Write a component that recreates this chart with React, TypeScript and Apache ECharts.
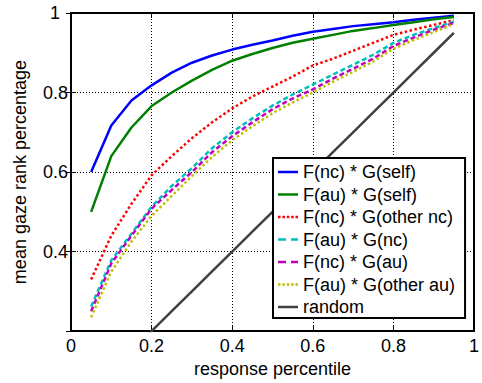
import React, { useEffect, useRef } from "react";
import * as echarts from "echarts";

const percentiles = [0.05, 0.1, 0.15, 0.2, 0.25, 0.3, 0.35, 0.4, 0.45, 0.5, 0.55, 0.6, 0.65, 0.7, 0.75, 0.8, 0.85, 0.9, 0.95];
const ncSelf = [0.60, 0.717, 0.78, 0.818, 0.85, 0.875, 0.893, 0.908, 0.92, 0.931, 0.943, 0.953, 0.96, 0.967, 0.972, 0.977, 0.983, 0.988, 0.993];
const auSelf = [0.50, 0.64, 0.712, 0.766, 0.80, 0.83, 0.857, 0.88, 0.897, 0.912, 0.925, 0.935, 0.945, 0.955, 0.962, 0.97, 0.977, 0.984, 0.99];
const ncOtherNc = [0.33, 0.44, 0.52, 0.592, 0.64, 0.685, 0.725, 0.76, 0.79, 0.815, 0.84, 0.868, 0.885, 0.905, 0.925, 0.945, 0.958, 0.97, 0.982];
const auNc = [0.262, 0.378, 0.445, 0.513, 0.565, 0.61, 0.66, 0.70, 0.735, 0.767, 0.795, 0.82, 0.845, 0.87, 0.895, 0.925, 0.945, 0.962, 0.978];
const ncAu = [0.25, 0.37, 0.44, 0.508, 0.555, 0.60, 0.65, 0.69, 0.725, 0.758, 0.785, 0.808, 0.835, 0.86, 0.885, 0.917, 0.938, 0.958, 0.975];
const auOtherAu = [0.235, 0.35, 0.425, 0.49, 0.54, 0.59, 0.638, 0.68, 0.715, 0.748, 0.775, 0.80, 0.827, 0.852, 0.878, 0.91, 0.932, 0.952, 0.972];
const randomLine = [0.05, 0.1, 0.15, 0.2, 0.25, 0.3, 0.35, 0.4, 0.45, 0.5, 0.55, 0.6, 0.65, 0.7, 0.75, 0.8, 0.85, 0.9, 0.95];

const seriesNames = [
  "F(nc) * G(self)",
  "F(au) * G(self)",
  "F(nc) * G(other nc)",
  "F(au) * G(nc)",
  "F(nc) * G(au)",
  "F(au) * G(other au)",
  "random",
];
const seriesValues = [ncSelf, auSelf, ncOtherNc, auNc, ncAu, auOtherAu, randomLine];
const seriesColors = ["#0000ff", "#008000", "#ff0000", "#00bfbf", "#bf00bf", "#bfbf00", "#404040"];
const seriesTypes: any[] = ["solid", "solid", [2.5, 2.5], [5, 3], [5, 3], [2.5, 2.5], "solid"];

const ICON_SOLID = "path://M0,0H20V2.5H0Z";
const ICON_DASH = "path://M0,0H8V2.5H0Z M13,0H20V2.5H13Z";
const ICON_DOT = "path://M0,0H2.5V2.5H0Z M4.4,0H6.9V2.5H4.4Z M8.8,0H11.3V2.5H8.8Z M13.2,0H15.7V2.5H13.2Z M17.5,0H20V2.5H17.5Z";
const legendIcons = [ICON_SOLID, ICON_SOLID, ICON_DOT, ICON_DASH, ICON_DASH, ICON_DOT, ICON_SOLID];

export default function App() {
  const ref = useRef<HTMLDivElement>(null);
  useEffect(() => {
    if (!ref.current) return;
    const chart = echarts.init(ref.current, null, { renderer: "svg" });
    const font = "Arial, 'Liberation Sans', sans-serif";
    const fs = 18;
    const grid = { left: 71, top: 13, width: 413, height: 324 };
    const gridLine = { show: true, lineStyle: { color: "#000", type: [1, 2] as any, width: 1 } };
    const option: any = {
      animation: false,
      backgroundColor: "#fff",
      textStyle: { fontFamily: font },
      grid: { ...grid, show: true, borderColor: "#000", borderWidth: 2, backgroundColor: "transparent" },
      legend: {
        orient: "vertical",
        left: 273,
        top: 158,
        data: seriesNames.map((name, i) => ({ name, icon: legendIcons[i] })),
        backgroundColor: "#fff",
        borderColor: "#000",
        borderWidth: 2,
        padding: [4, 10, 1, 5],
        itemWidth: 20,
        itemHeight: 2.5,
        itemGap: 2.5,
        symbolKeepAspect: false,
        itemStyle: { borderWidth: 0 },
        textStyle: { fontSize: fs, color: "#000", fontFamily: font, lineHeight: 20 },
        z: 10,
      },
      xAxis: [
        {
          type: "value",
          min: 0,
          max: 1,
          interval: 0.2,
          name: "response percentile",
          nameLocation: "middle",
          nameGap: 26,
          nameTextStyle: { fontSize: fs, color: "#000", fontFamily: font },
          axisLine: { show: true, lineStyle: { color: "#000", width: 2 } },
          axisTick: { show: true, inside: true, length: 5, lineStyle: { color: "#000" } },
          axisLabel: { fontSize: fs, color: "#000", margin: 6, fontFamily: font },
          splitLine: gridLine,
        },
        {
          type: "value",
          position: "top",
          min: 0,
          max: 1,
          interval: 0.2,
          axisLine: { show: true, lineStyle: { color: "#000", width: 2 } },
          axisTick: { show: true, inside: true, length: 5, lineStyle: { color: "#000" } },
          axisLabel: { show: false },
          splitLine: { show: false },
        },
      ],
      yAxis: [
        {
          type: "value",
          min: 0.2,
          max: 1,
          interval: 0.2,
          name: "mean gaze rank percentage",
          nameLocation: "middle",
          nameGap: 42,
          nameTextStyle: { fontSize: fs, color: "#000", fontFamily: font },
          axisLine: { show: true, lineStyle: { color: "#000", width: 2 } },
          axisTick: { show: true, inside: true, length: 5, lineStyle: { color: "#000" } },
          axisLabel: {
            fontSize: fs,
            color: "#000",
            margin: 3,
            fontFamily: font,
            showMinLabel: false,
            formatter: (v: number) =>
              Math.abs(v - 1) < 1e-9 ? "{one|1}" : String(Math.round(v * 10) / 10),
            rich: { one: { fontSize: fs, color: "#000", fontFamily: font, width: 18, align: "left" } },
          },
          splitLine: gridLine,
        },
        {
          type: "value",
          position: "right",
          min: 0.2,
          max: 1,
          interval: 0.2,
          axisLine: { show: true, lineStyle: { color: "#000", width: 2 } },
          axisTick: { show: true, inside: true, length: 5, lineStyle: { color: "#000" } },
          axisLabel: { show: false },
          splitLine: { show: false },
        },
      ],
      series: seriesNames.map((name, i) => ({
        name,
        type: "line",
        xAxisIndex: 0,
        yAxisIndex: 0,
        data: percentiles.map((p, j) => [p, seriesValues[i][j]]),
        symbol: "none",
        clip: true,
        lineStyle: { color: seriesColors[i], width: 2.5, type: seriesTypes[i] },
        itemStyle: { color: seriesColors[i] },
        z: 3,
      })),
    };
    chart.setOption(option);
    return () => chart.dispose();
  }, []);
  return (
    <div
      ref={ref}
      style={{ position: "fixed", left: 0, top: 0, width: 482, height: 383, background: "#fff" }}
    />
  );
}
